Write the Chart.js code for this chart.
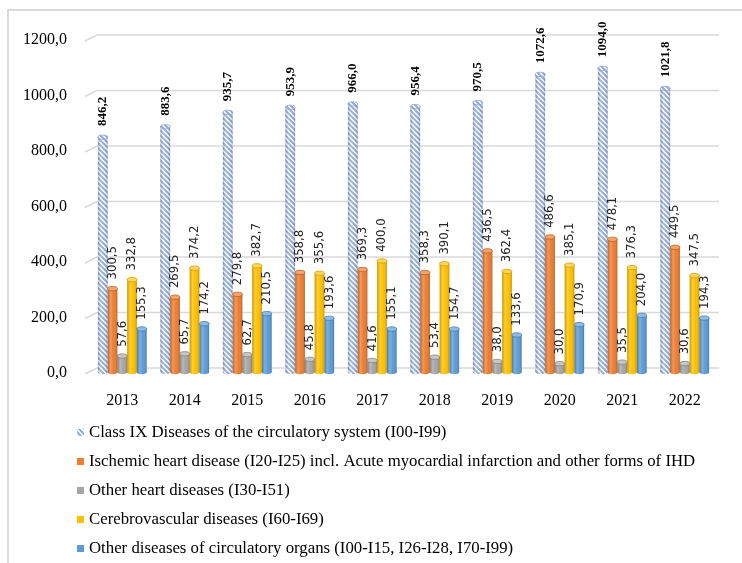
<!DOCTYPE html>
<html>
<head>
<meta charset="utf-8">
<script src="https://cdn.jsdelivr.net/npm/chart.js@4/dist/chart.umd.min.js"></script>
<style>
  html, body { margin: 0; padding: 0; background: #fff; }
  #wrap { position: relative; width: 742px; height: 563px; overflow: hidden; }
  #frame { position: absolute; left: 7px; top: 9px; width: 900px; height: 900px;
           border-left: 2px solid #d9d9d9; border-top: 2px solid #d9d9d9; }
  canvas { position: absolute; left: 0; top: 0; }
</style>
</head>
<body>
<div id="wrap">
  <div id="frame"></div>
  <canvas id="c" width="742" height="563"></canvas>
</div>
<script>
// Mortality from diseases of the circulatory system, 2013-2022
const years = ['2013', '2014', '2015', '2016', '2017', '2018', '2019', '2020', '2021', '2022'];
const classIX    = [846.2, 883.6, 935.7, 953.9, 966.0, 956.4, 970.5, 1072.6, 1094.0, 1021.8];
const ischemic   = [300.5, 269.5, 279.8, 358.8, 369.3, 358.3, 436.5, 486.6, 478.1, 449.5];
const otherHeart = [57.6, 65.7, 62.7, 45.8, 41.6, 53.4, 38.0, 30.0, 35.5, 30.6];
const cerebro    = [332.8, 374.2, 382.7, 355.6, 400.0, 390.1, 362.4, 385.1, 376.3, 347.5];
const otherCirc  = [155.3, 174.2, 210.5, 193.6, 155.1, 154.7, 133.6, 170.9, 204.0, 194.3];
const seriesNames = [
  'Class IX Diseases of the circulatory system (I00-I99)',
  'Ischemic heart disease (I20-I25) incl. Acute myocardial infarction and other forms of IHD',
  'Other heart diseases (I30-I51)',
  'Cerebrovascular diseases (I60-I69)',
  'Other diseases of circulatory organs (I00-I15, I26-I28, I70-I99)'
];
const yTickValues = [0, 200, 400, 600, 800, 1000, 1200];

// Styling
const baseColors = ['#8eaadb', '#ED7D31', '#A5A5A5', '#FFC000', '#5B9BD5'];
const capColors  = [null, '#f5a46c', '#c6c6c6', '#ffd45a', '#8fbbe6'];
const edgeColors = ['#8da4cf', '#c25f1d', '#858585', '#d4a000', '#3f7fbf'];
const serif = '"Liberation Serif", "Times New Roman", serif';
const narrow = '"Liberation Sans Narrow", "DejaVu Sans Condensed", "Liberation Sans", sans-serif';
const gridColor = '#d9d9d9';
const depth = 4; // vertical offset of the back wall

const canvas = document.getElementById('c');
const ctx0 = canvas.getContext('2d');

function makeHatch() {
  const t = document.createElement('canvas');
  t.width = 5; t.height = 5;
  const c = t.getContext('2d');
  c.fillStyle = '#ffffff';
  c.fillRect(0, 0, 5, 5);
  c.strokeStyle = '#8eaadb';
  c.lineWidth = 2;
  c.beginPath();
  for (const k of [-5, 0, 5]) { c.moveTo(k - 1, -1); c.lineTo(k + 6, 6); }
  c.stroke();
  return ctx0.createPattern(t, 'repeat');
}
const hatch = makeHatch();
const fills = [hatch, baseColors[1], baseColors[2], baseColors[3], baseColors[4]];

const fmt = v => v.toFixed(1).replace('.', ',');

function eachBar(chart, fn) {
  chart.data.datasets.forEach((ds, i) => {
    const meta = chart.getDatasetMeta(i);
    if (meta.hidden) return;
    meta.data.forEach((el, j) => {
      const p = el.getProps(['x', 'y', 'base', 'width'], true);
      fn(i, j, p, ds.data[j]);
    });
  });
}

const cylinders = {
  id: 'cylinders',
  beforeDatasetsDraw(chart) {
    const { ctx, chartArea: a, scales: { y } } = chart;
    ctx.save();
    // back wall gridlines and side wall slants
    ctx.strokeStyle = gridColor;
    ctx.lineWidth = 1.5;
    yTickValues.forEach(v => {
      const py = y.getPixelForValue(v);
      ctx.beginPath();
      ctx.moveTo(a.left - 6, py + 2);
      ctx.lineTo(a.left + 6, py - depth);
      ctx.lineTo(a.right + 3, py - depth);
      ctx.stroke();
    });
    // rounded bottoms
    eachBar(chart, (i, j, p) => {
      const ry = p.width * 0.22;
      ctx.beginPath();
      ctx.ellipse(p.x, p.base, p.width / 2, ry, 0, 0, Math.PI * 2);
      ctx.fillStyle = fills[i];
      ctx.fill();
    });
    ctx.restore();
  },
  afterDatasetsDraw(chart) {
    const { ctx } = chart;
    ctx.save();
    eachBar(chart, (i, j, p, v) => {
      const rx = p.width / 2, ry = p.width * 0.22;
      const left = p.x - rx, right = p.x + rx;
      // cylinder shading
      const g = ctx.createLinearGradient(left, 0, right, 0);
      g.addColorStop(0, 'rgba(0,0,0,0.18)');
      g.addColorStop(0.3, 'rgba(255,255,255,0.22)');
      g.addColorStop(0.6, 'rgba(255,255,255,0)');
      g.addColorStop(1, 'rgba(0,0,0,0.22)');
      ctx.beginPath();
      ctx.moveTo(left, p.y);
      ctx.lineTo(left, p.base);
      ctx.ellipse(p.x, p.base, rx, ry, 0, Math.PI, 0, true);
      ctx.lineTo(right, p.y);
      ctx.closePath();
      ctx.fillStyle = g;
      ctx.fill();
      // top cap
      ctx.beginPath();
      ctx.ellipse(p.x, p.y, rx, ry, 0, 0, Math.PI * 2);
      ctx.fillStyle = i === 0 ? hatch : capColors[i];
      ctx.fill();
      ctx.lineWidth = 0.8;
      ctx.strokeStyle = edgeColors[i];
      ctx.stroke();
    });
    // value labels, rotated
    eachBar(chart, (i, j, p, v) => {
      const ry = p.width * 0.22;
      ctx.save();
      ctx.translate(p.x, p.y - ry - (i === 0 ? 9 : 7));
      ctx.rotate(-Math.PI / 2);
      ctx.textAlign = 'left';
      ctx.textBaseline = 'middle';
      if (i === 0) {
        ctx.font = 'bold 13px ' + serif;
        ctx.fillStyle = '#000';
      } else {
        ctx.font = '13px ' + narrow;
        ctx.fillStyle = '#262626';
      }
      ctx.fillText(fmt(v), 0, 0);
      ctx.restore();
    });
    ctx.restore();
  },
  afterDraw(chart) {
    // legend, one entry per line
    const { ctx, chartArea: a } = chart;
    ctx.save();
    ctx.font = '16.8px ' + serif;
    ctx.textBaseline = 'middle';
    ctx.textAlign = 'left';
    chart.data.datasets.forEach((ds, i) => {
      const cy = a.bottom + 61 + i * 29;
      ctx.fillStyle = fills[i];
      ctx.fillRect(77, cy - 4, 7, 7);
      ctx.fillStyle = '#000';
      ctx.fillText(ds.label, 89, cy);
    });
    ctx.restore();
  }
};

const seriesData = [classIX, ischemic, otherHeart, cerebro, otherCirc];

new Chart(canvas, {
  type: 'bar',
  data: {
    labels: years,
    datasets: seriesData.map((d, i) => ({
      label: seriesNames[i],
      data: d,
      backgroundColor: fills[i],
      borderWidth: 0,
      categoryPercentage: 0.78,
      barPercentage: 1
    }))
  },
  options: {
    responsive: false,
    animation: false,
    devicePixelRatio: 1,
    layout: { padding: { left: 0, right: 26, top: 39, bottom: 156 } },
    plugins: { legend: { display: false }, tooltip: { enabled: false } },
    scales: {
      x: {
        grid: { display: false },
        border: { display: false },
        ticks: { font: { family: serif, size: 16 }, color: '#000', padding: 11 },
        afterFit(s) { s.height = 35; }
      },
      y: {
        min: 0, max: 1200,
        afterBuildTicks(s) { s.ticks = yTickValues.map(v => ({ value: v })); },
        grid: { display: false },
        border: { display: false },
        ticks: {
          font: { family: serif, size: 16 }, color: '#000', padding: 16, labelOffset: 1,
          callback: v => fmt(v)
        },
        afterFit(s) { s.width = 91; }
      }
    }
  },
  plugins: [cylinders]
});
</script>
</body>
</html>
